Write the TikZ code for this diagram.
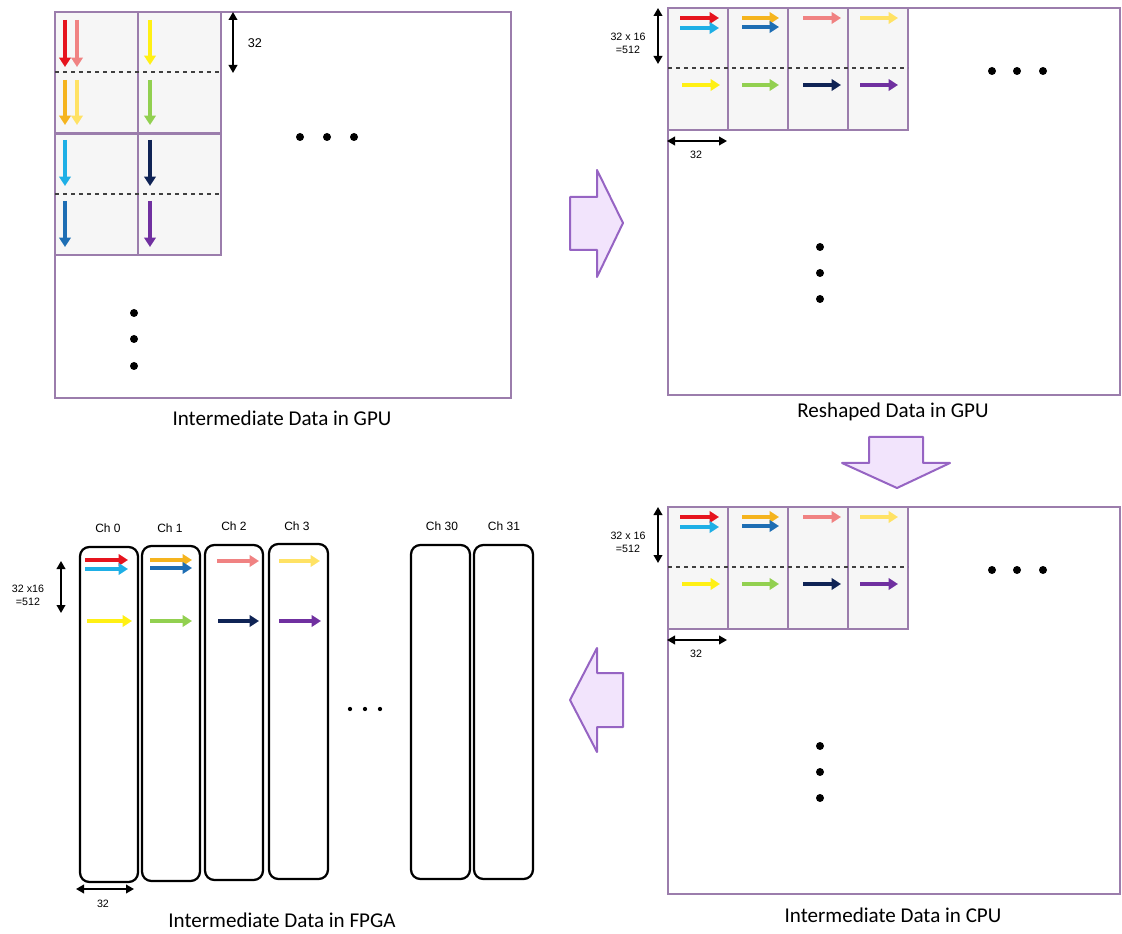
\documentclass[tikz,border=0pt]{standalone}
\usepackage{fontspec}
\setmainfont{Carlito}
\newfontfamily\lblfont{Liberation Sans}
\usepackage{tikz}
\usetikzlibrary{arrows.meta,positioning}

\definecolor{gridline}{RGB}{155,125,172}
\definecolor{cellfill}{RGB}{246,246,246}
\definecolor{blkfill}{RGB}{242,228,252}
\definecolor{blkline}{RGB}{150,100,195}
\definecolor{cRed}{RGB}{230,20,30}
\definecolor{cPink}{RGB}{240,130,130}
\definecolor{cYel}{RGB}{255,240,20}
\definecolor{cLYel}{RGB}{255,226,100}
\definecolor{cOrg}{RGB}{245,180,30}
\definecolor{cGrn}{RGB}{146,208,80}
\definecolor{cCyan}{RGB}{30,175,230}
\definecolor{cNavy}{RGB}{15,35,85}
\definecolor{cBlue}{RGB}{30,110,180}
\definecolor{cPurp}{RGB}{112,48,160}

\begin{document}
\begin{tikzpicture}[x=0.75pt, y=-0.75pt,
      outer/.style={draw=gridline, line width=2.2pt},
      cell/.style={draw=gridline, line width=2.2pt, fill=cellfill},
      midline/.style={dashed, line width=0.8pt, black!75},
      dat/.style={line width=2.8pt, -{Triangle[length=7pt,width=8.5pt]}},
      dimarr/.style={line width=1.3pt, {Triangle[length=6pt,width=6.5pt]}-{Triangle[length=6pt,width=6.5pt]}},
      dimlbl/.style={font=\lblfont\fontsize{8}{9.5}\selectfont, align=center, inner sep=1pt},
      chlbl/.style={font=\lblfont\fontsize{9}{10}\selectfont, inner sep=1pt},
      chan/.style={draw, line width=1.7pt, rounded corners=7pt},
      blk/.style={draw=blkline, fill=blkfill, line width=1.5pt, line join=round},
      capt/.style={font=\fontsize{15.8}{18}\selectfont, inner sep=1pt},
      blob/.style={circle, fill, inner sep=0pt, minimum size=6pt},
      pip/.style={circle, fill, inner sep=0pt, minimum size=3.2pt}]
    \useasboundingbox (0,0) rectangle (1122,934);

    % intermediate data in GPU
    \draw[outer] (55,12) rectangle (511,398);
    \foreach \i in {0,1}
      \foreach \j in {0,1}
        \draw[cell] (55+83*\i,12+121.5*\j) rectangle ++(83,121.5);
    \draw[midline] (55,72) -- (220,72);
    \draw[midline] (55,194) -- (220,194);
    \draw[dat,cRed]   (65,20) -- (65,67);
    \draw[dat,cPink]  (77,20) -- (77,67);
    \draw[dat,cYel]   (150,20) -- (150,65);
    \draw[dat,cOrg]   (65,80) -- (65,125);
    \draw[dat,cLYel]  (77,80) -- (77,125);
    \draw[dat,cGrn]   (150,80) -- (150,125);
    \draw[dat,cCyan]  (65,140) -- (65,186);
    \draw[dat,cNavy]  (150,140) -- (150,186);
    \draw[dat,cBlue]  (65,201) -- (65,247);
    \draw[dat,cPurp]  (150,201) -- (150,247);
    \coordinate (g1t) at (233,12);
    \coordinate (g1b) at (233,73);
    \draw[dimarr] (g1t) -- (g1b);
    \node[dimlbl,font=\lblfont\fontsize{9.5}{10}\selectfont] (g1dim) at (255,43) {32};
    \foreach \x in {300,327,354} \node[blob] at (\x,137) {};
    \foreach \y in {313,339,366} \node[blob] at (134,\y) {};
    \node[capt] (capgpu) at (282,418) {Intermediate Data in GPU};

    % reshaped data (GPU, then CPU)
    \foreach \oy in {0,499} {
      \begin{scope}[shift={(0,\oy)}]
        \draw[outer] (668,8) rectangle (1120,395);
        \foreach \i in {0,...,3}
          \draw[cell] (668+60*\i,8) rectangle ++(60,122);
        \draw[midline] (668,68) -- (908,68);
        \draw[dat,cRed]  (680,18) -- (719,18);
        \draw[dat,cCyan] (680,28) -- (719,28);
        \draw[dat,cOrg]  (742,18) -- (779,18);
        \draw[dat,cBlue] (742,27) -- (779,27);
        \draw[dat,cPink] (803,18) -- (841,18);
        \draw[dat,cLYel] (860,18) -- (898,18);
        \draw[dat,cYel]  (682,85) -- (720,85);
        \draw[dat,cGrn]  (742,85) -- (779,85);
        \draw[dat,cNavy] (803,85) -- (841,85);
        \draw[dat,cPurp] (860,85) -- (898,85);
        \coordinate (rt) at (658,8);
        \coordinate (rb) at (658,64);
        \draw[dimarr] (rt) -- (rb);
        \node[dimlbl] (rdim) at (628,43) {32 x 16\\=512};
        \coordinate (rl) at (667,141);
        \coordinate (rr) at (727,141);
        \draw[dimarr] (rl) -- (rr);
        \node[dimlbl] (rwid) at (696,155) {32};
        \foreach \x in {992,1017,1043} \node[blob] at (\x,71) {};
        \foreach \y in {247,273,299} \node[blob] at (820,\y) {};
      \end{scope}
    }
    \node[capt] (capres) at (893,412) {Reshaped Data in GPU};
    \node[capt] (capcpu) at (893,915) {Intermediate Data in CPU};

    % block arrows
    \draw[blk] (570,197) -- (597,197) -- (597,170) -- (623,223)
      -- (597,277) -- (597,250) -- (570,250) -- cycle;
    \draw[blk] (869,437) -- (923,437) -- (923,463) -- (950,463)
      -- (897,488) -- (842,463) -- (869,463) -- cycle;
    \draw[blk] (623,673) -- (597,673) -- (597,648) -- (570,700)
      -- (597,752) -- (597,727) -- (623,727) -- cycle;

    % intermediate data in FPGA
    \draw[chan] (80,547) rectangle (138,882);
    \draw[chan] (142,546) rectangle (200,881);
    \draw[chan] (205,545) rectangle (263,880);
    \draw[chan] (269,544) rectangle (328,879);
    \draw[chan] (411,545) rectangle (470,879);
    \draw[chan] (474,545) rectangle (533,879);
    \node[chlbl] (ch0) at (108,528) {Ch 0};
    \node[chlbl] (ch1) at (170,528) {Ch 1};
    \node[chlbl] (ch2) at (234,526) {Ch 2};
    \node[chlbl] (ch3) at (297,526) {Ch 3};
    \node[chlbl] (ch30) at (442,526) {Ch 30};
    \node[chlbl] (ch31) at (504,526) {Ch 31};
    \draw[dat,cRed]  (85,560) -- (128,560);
    \draw[dat,cCyan] (85,569) -- (128,569);
    \draw[dat,cOrg]  (150,560) -- (192,560);
    \draw[dat,cBlue] (150,568) -- (192,568);
    \draw[dat,cPink] (217,561) -- (259,561);
    \draw[dat,cLYel] (279,561) -- (320,561);
    \draw[dat,cYel]  (87,621) -- (132,621);
    \draw[dat,cGrn]  (150,621) -- (192,621);
    \draw[dat,cNavy] (218,621) -- (259,621);
    \draw[dat,cPurp] (279,621) -- (321,621);
    \coordinate (ft) at (61,561);
    \coordinate (fb) at (61,613);
    \draw[dimarr] (ft) -- (fb);
    \node[dimlbl] (fdim) at (28,595) {32 x16\\=512};
    \coordinate (fl) at (76,889);
    \coordinate (fr) at (134,889);
    \draw[dimarr] (fl) -- (fr);
    \node[dimlbl] (fwid) at (103,904) {32};
    \foreach \x in {350,365,380} \node[pip] at (\x,709) {};
    \node[capt] (capfpga) at (282,920) {Intermediate Data in FPGA};
  \end{tikzpicture}
\end{document}
